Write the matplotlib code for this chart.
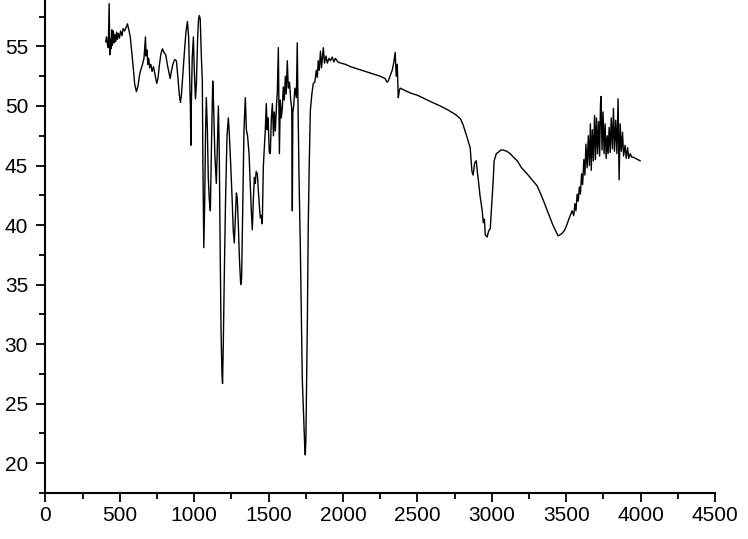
"""IR transmittance spectrum redrawn from a reference picture."""

import matplotlib

matplotlib.use("Agg")
import matplotlib.pyplot as plt
from matplotlib.ticker import MultipleLocator

# Values (wavenumber in cm-1, transmittance in %).
wavenumber = [
    405, 410, 416, 422, 428, 432, 436, 440, 446, 450, 456, 461, 466, 472, 478,
    484, 490, 497, 505, 514, 522, 532, 542, 551, 560, 570, 580, 590, 600, 611,
    622, 632, 640, 652, 662, 672, 676, 682, 688, 694, 700, 708, 716, 726, 738,
    748, 756, 766, 776, 786, 796, 808, 820, 830, 838, 846, 856, 868, 880, 890,
    900, 907, 914, 924, 934, 944, 954, 962, 970, 974, 977, 980, 986, 994, 1000,
    1008, 1014, 1022, 1028, 1034, 1040, 1048, 1054, 1058, 1064, 1070, 1076, 1081,
    1088, 1094, 1101, 1108, 1116, 1124, 1130, 1138, 1148, 1154, 1162, 1168, 1174,
    1180, 1186, 1190, 1195, 1202, 1210, 1220, 1229, 1236, 1245, 1255, 1262, 1269,
    1276, 1283, 1289, 1296, 1304, 1312, 1318, 1326, 1334, 1343, 1350, 1358, 1368,
    1377, 1384, 1390, 1398, 1404, 1410, 1416, 1424, 1430, 1438, 1444, 1450, 1457,
    1464, 1471, 1478, 1484, 1490, 1496, 1504, 1511, 1518, 1525, 1532, 1538, 1545,
    1552, 1558, 1565, 1572, 1578, 1585, 1592, 1598, 1605, 1612, 1618, 1625, 1632,
    1640, 1648, 1655, 1659, 1662, 1668, 1676, 1686, 1692, 1697, 1704, 1713, 1720,
    1726, 1735, 1742, 1746, 1750, 1756, 1760, 1766, 1773, 1780, 1790, 1800, 1810,
    1820, 1827, 1833, 1840, 1848, 1855, 1867, 1875, 1885, 1894, 1905, 1915, 1927,
    1938, 1948, 1965, 1985, 2015, 2050, 2100, 2150, 2200, 2250, 2283, 2295, 2304,
    2318, 2330, 2340, 2350, 2357, 2364, 2371, 2378, 2384, 2400, 2450, 2500, 2550,
    2600, 2653, 2700, 2754, 2790, 2807, 2830, 2854, 2866, 2874, 2884, 2895, 2902,
    2908, 2920, 2935, 2942, 2950, 2955, 2968, 2978, 2989, 3000, 3009, 3015, 3030,
    3042, 3060, 3076, 3100, 3123, 3145, 3170, 3200, 3237, 3270, 3304, 3325, 3345,
    3370, 3392, 3410, 3425, 3445, 3460, 3472, 3490, 3506, 3520, 3539, 3550, 3558,
    3565, 3573, 3580, 3588, 3595, 3603, 3610, 3618, 3625, 3632, 3640, 3648, 3655,
    3662, 3668, 3675, 3682, 3690, 3696, 3703, 3710, 3717, 3724, 3730, 3734, 3740,
    3747, 3754, 3761, 3768, 3775, 3781, 3788, 3795, 3802, 3810, 3817, 3824, 3832,
    3840, 3848, 3855, 3862, 3870, 3878, 3885, 3895, 3903, 3912, 3920, 3930, 3940,
    3950, 3965, 3980, 3996,
]
transmittance = [
    55.4, 55.8, 55.2, 54.9, 58.6, 54.3, 55.6, 54.8, 56.4, 55.1, 56.3, 55.3, 56.0, 55.4, 56.2,
    55.6, 56.1, 55.7, 56.3, 55.9, 56.5, 56.3, 56.6, 56.9, 56.4, 55.8, 54.5, 53.2, 51.8, 51.2,
    51.7, 52.6, 53.0, 53.5, 54.0, 55.8, 54.2, 54.7, 53.5, 54.0, 53.2, 53.5, 52.9, 53.3, 52.5,
    51.9, 52.3, 53.5, 54.4, 54.8, 54.5, 54.3, 53.4, 52.8, 52.3, 52.9, 53.5, 53.9, 53.8, 52.3,
    50.9, 50.3, 51.0, 52.8, 54.6, 56.2, 57.1, 55.8, 52.0, 49.8, 46.7, 50.0, 54.0, 55.8, 53.0,
    50.6, 51.8, 55.5, 57.2, 57.6, 57.3, 54.0, 52.1, 45.0, 38.1, 42.0, 48.0, 50.7,
    48.0, 44.0, 42.1, 41.2, 47.0, 52.1, 50.0, 46.0, 43.5, 46.0, 50.0, 46.0, 38.0,
    31.0, 27.5, 26.7, 30.0, 36.0, 42.0, 47.5, 49.0, 47.5, 45.0, 42.0, 39.5, 38.5,
    40.5, 42.7, 42.2, 40.0, 37.0, 35.0, 35.5, 42.0, 48.0, 50.7, 48.0, 47.5, 46.0,
    43.2, 41.0, 39.6, 42.5, 44.0, 43.5, 44.5, 44.3, 43.0, 41.5, 40.6, 40.8, 40.1,
    44.9, 46.5, 48.2, 50.2, 48.0, 49.0, 46.1, 46.0, 49.0, 50.2, 47.5, 49.5, 47.9,
    50.0, 51.1, 54.9, 46.0, 50.5, 49.0, 49.9, 51.6, 50.5, 52.5, 51.0, 53.8, 51.5,
    52.0, 50.5, 49.8, 41.2, 49.4, 50.0, 51.5, 50.7, 55.3, 50.2, 44.0, 37.9, 32.0,
    27.0, 24.0, 21.5, 20.7, 22.0, 28.0, 32.0, 40.0, 45.4, 49.6, 51.0, 51.9, 52.0,
    53.0, 52.4, 53.8, 53.0, 54.6, 53.2, 54.9, 53.6, 54.2, 53.6, 54.0, 53.8, 54.1,
    53.7, 54.0, 53.7, 53.6, 53.5, 53.3, 53.1, 52.9, 52.7, 52.5, 52.3, 52.0, 52.1,
    52.6, 53.0, 53.6, 54.5, 52.5, 53.5, 50.7, 51.3, 51.5, 51.4, 51.1, 50.9, 50.6,
    50.3, 50.0, 49.7, 49.3, 48.9, 48.4, 47.5, 46.5, 44.5, 44.2, 45.2, 45.4, 44.5,
    43.9, 42.5, 41.2, 40.2, 40.5, 39.2, 39.0, 39.5, 39.7, 42.0, 43.8, 45.4, 46.0,
    46.1, 46.3, 46.3, 46.2, 46.0, 45.7, 45.4, 44.8, 44.3, 43.8, 43.3, 42.7, 42.1,
    41.3, 40.6, 40.0, 39.6, 39.1, 39.2, 39.3, 39.6, 40.1, 40.6, 41.2, 40.8, 41.8,
    41.2, 42.6, 42.0, 43.2, 42.6, 44.3, 43.4, 45.5, 44.2, 46.8, 44.8, 47.5, 45.0,
    48.5, 44.6, 48.0, 45.4, 49.2, 45.5, 49.0, 46.0, 48.7, 45.8, 50.2, 50.8, 46.3,
    49.5, 46.0, 48.5, 45.6, 47.5, 46.0, 48.2, 46.1, 49.0, 46.4, 49.8, 46.2, 48.8,
    46.0, 50.6, 43.8, 48.5, 46.2, 47.8, 45.8, 46.7, 45.6, 46.5, 45.6, 46.0, 45.7,
    45.7, 45.6, 45.5, 45.4,
]

x_ticks = [0, 500, 1000, 1500, 2000, 2500, 3000, 3500, 4000, 4500]
y_ticks = [20, 25, 30, 35, 40, 45, 50, 55]

plt.rcParams["font.family"] = ["Liberation Sans", "DejaVu Sans"]

fig = plt.figure(figsize=(7.48, 5.39), dpi=100)
ax = fig.add_axes([0.0608, 0.0853, 0.8952, 0.9147])

ax.plot(wavenumber, transmittance, color="black", linewidth=1.0)

ax.set_xlim(0, 4500)
ax.set_ylim(17.5, 58.9)
ax.set_xticks(x_ticks)
ax.set_yticks(y_ticks)
ax.xaxis.set_minor_locator(MultipleLocator(250))
ax.yaxis.set_minor_locator(MultipleLocator(2.5))

for side in ("top", "right"):
    ax.spines[side].set_visible(False)
for side in ("left", "bottom"):
    ax.spines[side].set_linewidth(1.5)

ax.tick_params(which="major", direction="out", length=6.5, width=1.3,
               labelsize=15, pad=3)
ax.tick_params(axis="y", which="major", pad=6)
ax.tick_params(which="minor", direction="out", length=4, width=1.3)

fig.savefig("out.png", dpi=100)
